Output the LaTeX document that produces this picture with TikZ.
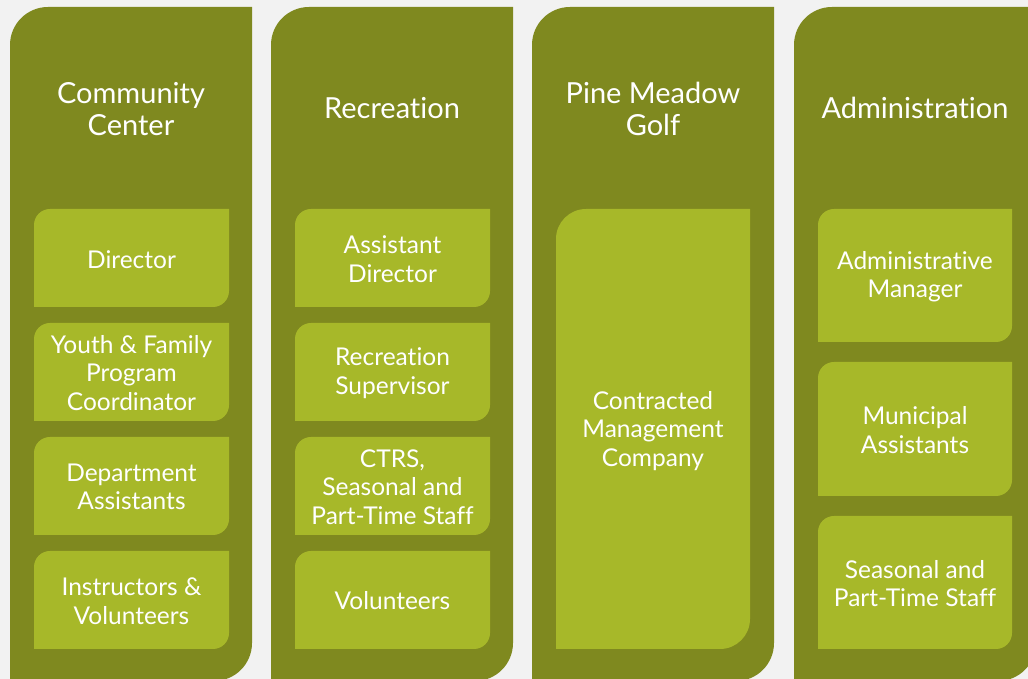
\documentclass[tikz,border=0pt]{standalone}
\usepackage{fontspec}
\setmainfont{Lato}[Ligatures=NoCommon]

\definecolor{olive}{RGB}{127,137,31}
\definecolor{lime}{RGB}{167,184,41}
\definecolor{backgr}{RGB}{242,242,242}

% filled box, rounded at top left and bottom right only
% #1 colour, #2 radius, (#3,#4) lower left, (#5,#6) upper right
\newcommand{\leaf}[6]{%
  \fill[#1] (#3,#4) -- (#3,#6-#2) arc[start angle=180, end angle=90, radius=#2]
    -- (#5,#6) -- (#5,#4+#2) arc[start angle=0, end angle=-90, radius=#2] -- cycle;}

\tikzset{
  head/.style={white, align=center, font=\fontsize{29}{32}\selectfont},
  role/.style={white, align=center, font=\fontsize{24.5}{28.5}\selectfont},
}

\begin{document}
\begin{tikzpicture}[x=1pt, y=1pt]
    \useasboundingbox (0,0) rectangle (1028,679);
    \fill[backgr] (0,0) rectangle (1028,679);
    \clip (0,0) rectangle (1028,679);

    % Columns
    \leaf{olive}{38}{10}{-2}{252}{672}
    \leaf{olive}{38}{271}{-2}{513}{672}
    \leaf{olive}{38}{532}{-2}{774}{672}
    \leaf{olive}{38}{794}{-2}{1036}{672}

    % Community Center
    \node (cchead) at (131,570) [head] {Community\\Center};
    \leaf{lime}{16}{34}{372}{229}{470}
    \leaf{lime}{16}{34}{258}{229}{356}
    \leaf{lime}{16}{34}{144}{229}{242}
    \leaf{lime}{16}{34}{30}{229}{128}
    \node (ccdir) at (131.5,419) [role] {Director};
    \node (ccyouth) at (131.5,306) [role] {Youth \& Family\\Program\\Coordinator};
    \node (ccdept) at (131.5,192) [role] {Department\\Assistants};
    \node (ccinst) at (131.5,78) [role] {Instructors \&\\Volunteers};

    % Recreation
    \node (rechead) at (392,571) [head] {Recreation};
    \leaf{lime}{16}{295}{372}{490}{470}
    \leaf{lime}{16}{295}{258}{490}{356}
    \leaf{lime}{16}{295}{144}{490}{242}
    \leaf{lime}{16}{295}{30}{490}{128}
    \node (recasst) at (392.5,420) [role] {Assistant\\Director};
    \node (recsup) at (392.5,306) [role] {Recreation\\Supervisor};
    \node (recstaff) at (392.5,192) [role] {CTRS,\\Seasonal and\\Part-Time Staff};
    \node (recvol) at (392.5,78) [role] {Volunteers};

    % Pine Meadow Golf
    \node (golfhead) at (653,570) [head] {Pine Meadow\\Golf};
    \leaf{lime}{30}{556}{30}{750}{470}
    \node (golfmgmt) at (653,248) [role] {Contracted\\Management\\Company};

    % Administration
    \node (admhead) at (915,571) [head] {Administration};
    \leaf{lime}{16}{818}{337}{1012}{470}
    \leaf{lime}{16}{818}{183}{1012}{317}
    \leaf{lime}{16}{818}{30}{1012}{163}
    \node (admmgr) at (915,402.5) [role] {Administrative\\Manager};
    \node (admasst) at (915,249) [role] {Municipal\\Assistants};
    \node (admstaff) at (915,95.5) [role] {Seasonal and\\Part-Time Staff};
\end{tikzpicture}
\end{document}
